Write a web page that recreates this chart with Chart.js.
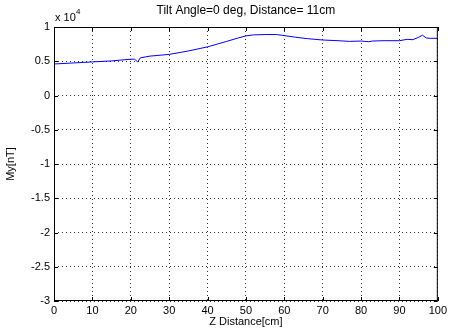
<!DOCTYPE html>
<html>
<head>
<meta charset="utf-8">
<script src="https://cdn.jsdelivr.net/npm/chart.js@4"></script>
<style>
  html, body { margin: 0; padding: 0; background: #fff; }
  #wrap { width: 450px; height: 331px; }
</style>
</head>
<body>
<div id="wrap"><canvas id="myChart" width="450" height="331"></canvas></div>
<script>
// Z distance in cm
const zDistance = [0, 5, 10, 15, 20, 21, 21.8, 22.5, 25, 30, 35, 40, 45, 48, 50, 52, 55, 58, 60, 63, 66, 70, 74, 77, 80, 82, 83, 86, 90, 92, 93.5, 95, 96, 97, 98, 100];
// My in nT
const myValues = [4600, 4750, 4900, 5050, 5300, 5300, 4900, 5500, 5750, 6000, 6500, 7100, 7900, 8400, 8700, 8850, 8900, 8900, 8750, 8500, 8300, 8100, 8000, 7900, 7950, 7850, 7950, 8000, 8000, 8200, 8150, 8500, 8800, 8400, 8350, 8350];
const xTicks = [0, 10, 20, 30, 40, 50, 60, 70, 80, 90, 100];
const yTicks = [-30000, -25000, -20000, -15000, -10000, -5000, 0, 5000, 10000];

const points = zDistance.map((z, i) => ({ x: z, y: myValues[i] }));
const font = "Liberation Sans, Arial, sans-serif";

const matlabAxes = {
  id: "matlabAxes",
  afterDraw(chart) {
    const { ctx, chartArea: a, scales } = chart;
    ctx.save();
    ctx.strokeStyle = "#000";
    ctx.lineWidth = 1;
    ctx.strokeRect(a.left + 0.5, a.top + 0.5, a.right - a.left - 1, a.bottom - a.top - 1);
    // inward tick marks
    ctx.beginPath();
    xTicks.forEach(v => {
      const px = Math.round(scales.x.getPixelForValue(v)) + 0.5;
      ctx.moveTo(px, a.bottom); ctx.lineTo(px, a.bottom - 4);
      ctx.moveTo(px, a.top); ctx.lineTo(px, a.top + 4);
    });
    yTicks.forEach(v => {
      const py = Math.round(scales.y.getPixelForValue(v)) + 0.5;
      ctx.moveTo(a.left, py); ctx.lineTo(a.left + 4, py);
      ctx.moveTo(a.right, py); ctx.lineTo(a.right - 4, py);
    });
    ctx.stroke();
    // texts
    ctx.fillStyle = "#000";
    ctx.font = "12px " + font;
    ctx.textAlign = "center";
    ctx.textBaseline = "middle";
    ctx.fillText("Tilt Angle=0 deg, Distance= 11cm", (a.left + a.right) / 2, 11);
    ctx.font = "11px " + font;
    ctx.fillText("Z Distance[cm]", (a.left + a.right) / 2, 322);
    ctx.textAlign = "left";
    ctx.fillText("x 10", a.left + 1, 18);
    ctx.font = "8px " + font;
    ctx.fillText("4", a.left + 22, 12);
    ctx.font = "11px " + font;
    ctx.translate(11, (a.top + a.bottom) / 2);
    ctx.rotate(-Math.PI / 2);
    ctx.textAlign = "center";
    ctx.fillText("My[nT]", 0, 0);
    ctx.restore();
  }
};

const config = {
  type: "line",
  data: {
    datasets: [
      {
        label: "My",
        data: points,
        borderColor: "rgb(0, 0, 255)",
        borderWidth: 1,
        pointRadius: 0,
        tension: 0,
        fill: false,
      },
    ],
  },
  options: {
    responsive: false,
    animation: false,
    layout: { padding: { top: 27, right: 11, left: 0, bottom: 0 } },
    plugins: {
      legend: { display: false },
      tooltip: { enabled: false },
    },
    scales: {
      x: {
        type: "linear",
        min: 0,
        max: 100,
        afterFit: s => { s.height = 30; },
        afterBuildTicks: s => { s.ticks = xTicks.map(v => ({ value: v })); },
        grid: { color: "#333", drawTicks: false, lineWidth: 1 },
        border: { display: false, dash: [1, 3] },
        ticks: { color: "#000", font: { family: font, size: 11 }, padding: 3, maxRotation: 0 },
      },
      y: {
        min: -30000,
        max: 10000,
        afterFit: s => { s.width = 54; },
        afterBuildTicks: s => { s.ticks = yTicks.map(v => ({ value: v })); },
        grid: { color: "#333", drawTicks: false, lineWidth: 1 },
        border: { display: false, dash: [1, 3] },
        ticks: {
          color: "#000",
          font: { family: font, size: 11 },
          padding: 4,
          callback: v => String(v / 10000),
        },
      },
    },
  },
  plugins: [matlabAxes],
};

const myChart = new Chart(document.getElementById("myChart"), config);
</script>
</body>
</html>
